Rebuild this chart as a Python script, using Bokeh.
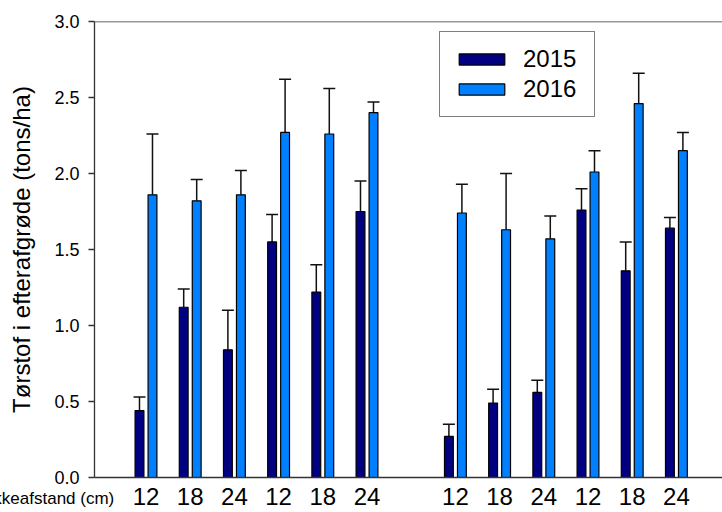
from bokeh.plotting import figure
from bokeh.models import (Range1d, FixedTicker, PrintfTickFormatter, Whisker, TeeHead,
                          ColumnDataSource, Span)
from bokeh.embed import file_html
from bokeh.resources import INLINE

# ---- data ----
spacing = ["12", "18", "24", "12", "18", "24", "12", "18", "24", "12", "18", "24"]
y2015 = [0.44, 1.12, 0.84, 1.55, 1.22, 1.75, 0.27, 0.49, 0.56, 1.76, 1.36, 1.64]
err2015 = [0.09, 0.12, 0.26, 0.18, 0.18, 0.20, 0.08, 0.09, 0.08, 0.14, 0.19, 0.07]
y2016 = [1.86, 1.82, 1.86, 2.27, 2.26, 2.40, 1.74, 1.63, 1.57, 2.01, 2.46, 2.15]
err2016 = [0.40, 0.14, 0.16, 0.35, 0.30, 0.07, 0.19, 0.37, 0.15, 0.14, 0.20, 0.12]
yticks = [0.0, 0.5, 1.0, 1.5, 2.0, 2.5, 3.0]
series = ["2015", "2016"]
x_title = "Rækkeafstand (cm)"
y_title = "Tørstof i efterafgrøde (tons/ha)"

FONT = "Liberation Sans"
AX = "#333333"
DARK = "#000080"
LIGHT = "#0080FF"

# slot positions: two blocks of six, one empty slot between
xpos = [i + (i // 6) for i in range(len(spacing))]
off = 0.147
bw = 0.2

src = ColumnDataSource(dict(
    x15=[x - off for x in xpos], x16=[x + off for x in xpos],
    y15=y2015, y16=y2016,
    u15=[a + b for a, b in zip(y2015, err2015)],
    u16=[a + b for a, b in zip(y2016, err2016)],
))

p = figure(width=722, height=512, output_backend="svg", toolbar_location=None,
           title=None,
           x_range=Range1d(-1.165, 13.043), y_range=Range1d(0, 3),
           min_border_left=94, min_border_top=21, min_border_bottom=35,
           min_border_right=0)
p.outline_line_color = None
p.xgrid.visible = False
p.ygrid.visible = False
p.background_fill_color = "white"
p.border_fill_color = "white"

p.vbar(x="x15", top="y15", width=bw, source=src, fill_color=DARK,
       line_color="black", line_width=1.2, legend_label=series[0])
p.vbar(x="x16", top="y16", width=bw, source=src, fill_color=LIGHT,
       line_color="black", line_width=1.2, legend_label=series[1])

for base, lo, up in (("x15", "y15", "u15"), ("x16", "y16", "u16")):
    w = Whisker(source=src, base=base, lower=lo, upper=up, dimension="height",
                line_color="#111111", line_width=1.5,
                upper_head=TeeHead(size=12, line_color="#111111", line_width=1.5),
                lower_head=None)
    p.add_layout(w)

p.add_layout(Span(location=3, dimension="width", line_color=AX, line_width=1.3))

# y axis
ya = p.yaxis[0]
ya.ticker = FixedTicker(ticks=yticks)
ya.formatter = PrintfTickFormatter(format="%.1f")
ya.major_tick_out = 6
ya.major_tick_in = 0
ya.minor_tick_line_color = None
ya.major_tick_line_color = AX
ya.major_tick_line_width = 1.3
ya.axis_line_color = AX
ya.axis_line_width = 1.3
ya.major_label_text_font = FONT
ya.major_label_text_font_size = "18px"
ya.major_label_text_color = "black"
ya.major_label_standoff = 9
ya.axis_label = y_title
ya.axis_label_text_font = FONT
ya.axis_label_text_font_size = "24px"
ya.axis_label_text_font_style = "normal"
ya.axis_label_text_color = "black"
ya.axis_label_standoff = 16

# x axis: spacing labels under each bar pair, axis title shifted to the far left
xa = p.xaxis[0]
xa.ticker = FixedTicker(ticks=xpos)
xa.major_label_overrides = {x: s for x, s in zip(xpos, spacing)}
xa.major_tick_line_color = None
xa.major_tick_out = 0
xa.major_tick_in = 0
xa.minor_tick_line_color = None
xa.axis_line_color = AX
xa.axis_line_width = 1.3
xa.major_label_text_font = FONT
xa.major_label_text_font_size = "24px"
xa.major_label_text_color = "black"
xa.major_label_standoff = 10
xa.axis_label = x_title + "\u00a0" * 156
xa.axis_label_text_font = FONT
xa.axis_label_text_font_size = "17px"
xa.axis_label_text_font_style = "normal"
xa.axis_label_text_color = "black"
xa.axis_label_standoff = -19

lg = p.legend[0]
lg.location = (345, 360)
lg.border_line_color = "black"
lg.border_line_width = 1
lg.background_fill_color = "white"
lg.background_fill_alpha = 1
lg.padding = 13
lg.spacing = 2
lg.margin = 0
lg.glyph_width = 57
lg.glyph_height = 14
lg.label_standoff = 13
lg.label_width = 58
lg.label_height = 26
lg.label_text_font = FONT
lg.label_text_font_size = "24px"
lg.label_text_color = "black"

open("out.html", "w").write(file_html(p, INLINE))
